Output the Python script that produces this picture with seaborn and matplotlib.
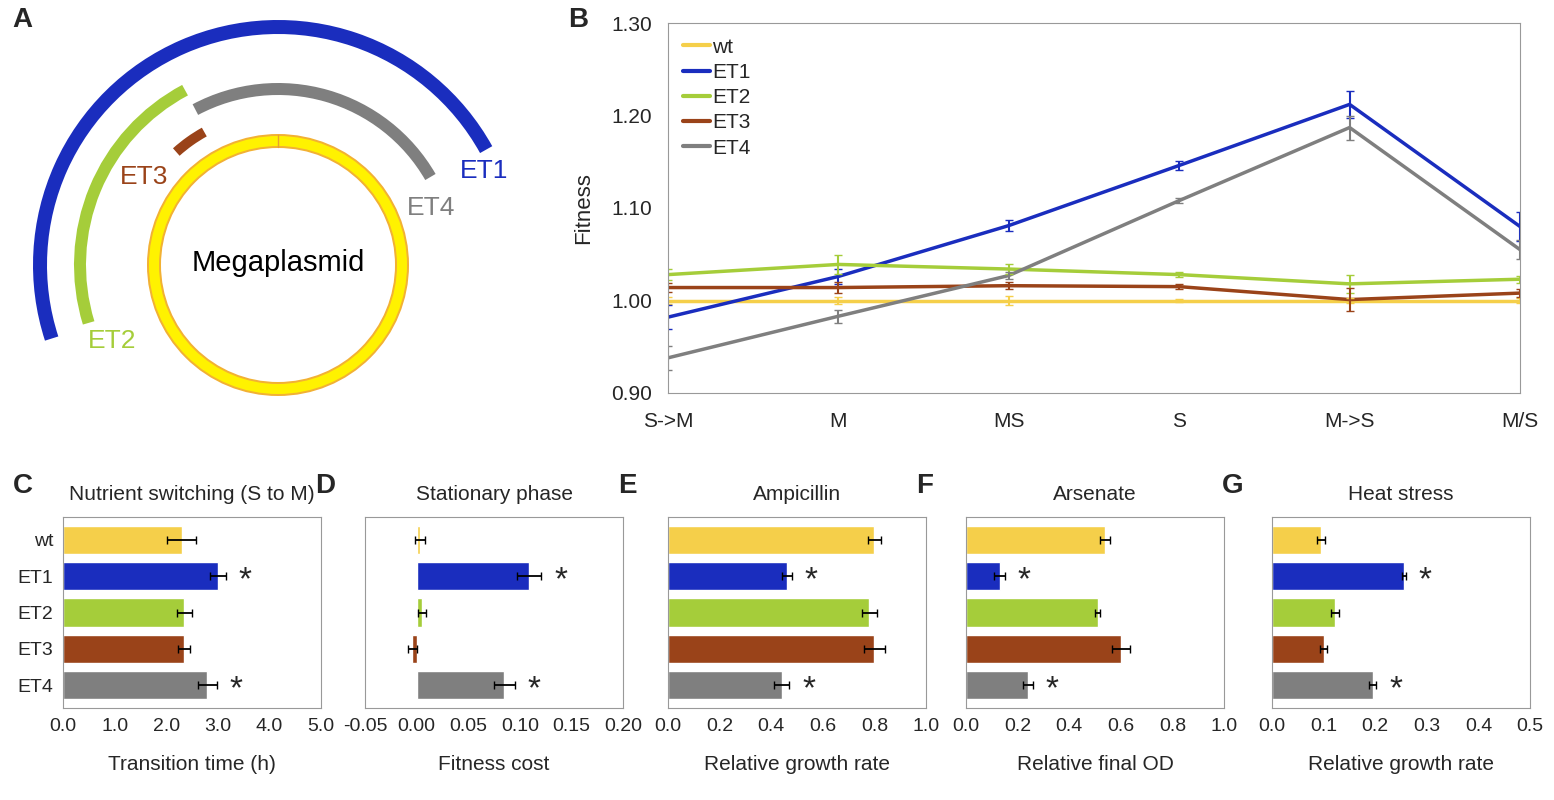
import numpy as np
import pandas as pd
import matplotlib
matplotlib.use("Agg")
import matplotlib.pyplot as plt
from matplotlib.patches import Arc, Circle
import seaborn as sns

sns.set_style("white")
plt.rcParams['font.family'] = ['Liberation Sans', 'DejaVu Sans']

strains = ["wt", "ET1", "ET2", "ET3", "ET4"]
colors = ["#F5CF4A", "#1A2DBE", "#A5CD3A", "#9A4319", "#7F7F7F"]

# panel B
conditions = ["S->M", "M", "MS", "S", "M->S", "M/S"]
fit_wt = [1.000, 1.000, 1.000, 1.000, 1.000, 1.000]
fit_et1 = [0.982, 1.026, 1.081, 1.146, 1.212, 1.080]
fit_et2 = [1.028, 1.039, 1.034, 1.028, 1.018, 1.023]
fit_et3 = [1.014, 1.014, 1.016, 1.015, 1.001, 1.008]
fit_et4 = [0.938, 0.983, 1.027, 1.108, 1.187, 1.055]
err_wt = [0.004, 0.004, 0.005, 0.002, 0.003, 0.003]
err_et1 = [0.013, 0.008, 0.006, 0.005, 0.015, 0.016]
err_et2 = [0.006, 0.010, 0.005, 0.003, 0.010, 0.004]
err_et3 = [0.005, 0.006, 0.004, 0.003, 0.012, 0.004]
err_et4 = [0.013, 0.007, 0.004, 0.003, 0.013, 0.010]

# panels C-G
titles = ["Nutrient switching (S to M)", "Stationary phase", "Ampicillin", "Arsenate", "Heat stress"]
xlabels = ["Transition time (h)", "Fitness cost", "Relative growth rate", "Relative final OD", "Relative growth rate"]
letters = ["C", "D", "E", "F", "G"]
vals = [[2.3, 3.0, 2.35, 2.35, 2.8],
        [0.003, 0.109, 0.005, -0.004, 0.085],
        [0.80, 0.46, 0.78, 0.80, 0.44],
        [0.54, 0.13, 0.51, 0.60, 0.24],
        [0.095, 0.255, 0.122, 0.100, 0.195]]
errs = [[0.28, 0.15, 0.15, 0.12, 0.18],
        [0.005, 0.012, 0.004, 0.004, 0.010],
        [0.025, 0.02, 0.03, 0.04, 0.03],
        [0.02, 0.02, 0.01, 0.035, 0.02],
        [0.007, 0.004, 0.007, 0.007, 0.007]]
xlims = [(0, 5), (-0.05, 0.2), (0, 1), (0, 1), (0, 0.5)]
xticks = [np.arange(0, 5.01, 1.0), np.arange(-0.05, 0.201, 0.05), np.arange(0, 1.01, 0.2),
          np.arange(0, 1.01, 0.2), np.arange(0, 0.501, 0.1)]
tickfmt = ["{:.1f}", "{:.2f}", "{:.1f}", "{:.1f}", "{:.1f}"]
star_rows = [1, 4]

# panel A arcs: radius, start deg, end deg, width px, colour
arc_radius = [238, 198, 176, 152]
arc_start = [29, 118, 30, 119]
arc_end = [198, 197, 118, 132]
arc_width = [14, 12, 12, 10]
arc_colors = [colors[1], colors[2], colors[4], colors[3]]

W, H = 1554, 800
fig = plt.figure(figsize=(W / 100, H / 100), dpi=100)

def add_ax(x0, y0, x1, y1):
    return fig.add_axes([x0 / W, 1 - y1 / H, (x1 - x0) / W, (y1 - y0) / H])

# ---- A ----
axA = add_ax(0, 0, 560, 420)
axA.set_xlim(0, 560)
axA.set_ylim(0, 420)
axA.set_aspect("equal")
axA.axis("off")
cx, cy = 278, 155
px = 0.72
for r, a0, a1, w, c in zip(arc_radius, arc_start, arc_end, arc_width, arc_colors):
    axA.add_patch(Arc((cx, cy), 2 * r, 2 * r, theta1=a0, theta2=a1, color=c, lw=w * px))
axA.add_patch(Circle((cx, cy), 124, fill=False, ec="#F2B134", lw=14 * px))
axA.add_patch(Circle((cx, cy), 124, fill=False, ec="#FFF200", lw=10 * px))
axA.plot([cx, cx], [cy + 118, cy + 130], color="#E8A030", lw=1)
axA.text(cx, cy + 2, "Megaplasmid", ha="center", va="center", fontsize=21, color="black")
axA.text(460, 242, "ET1", color=colors[1], fontsize=19)
axA.text(88, 72, "ET2", color=colors[2], fontsize=19)
axA.text(120, 236, "ET3", color=colors[3], fontsize=19)
axA.text(407, 205, "ET4", color=colors[4], fontsize=19)
fig.text(12 / W, 1 - 20 / H, "A", fontsize=20, fontweight="bold", va="center")

# ---- B ----
axB = add_ax(668, 23, 1520, 393)
rows = []
for s, v, e in zip(strains, [fit_wt, fit_et1, fit_et2, fit_et3, fit_et4],
                   [err_wt, err_et1, err_et2, err_et3, err_et4]):
    for i, (vv, ee) in enumerate(zip(v, e)):
        rows.append({"strain": s, "x": i, "fitness": vv, "err": ee})
dfB = pd.DataFrame(rows)
sns.lineplot(data=dfB, x="x", y="fitness", hue="strain", palette=colors, lw=2.5, ax=axB)
for s, c in zip(strains, colors):
    d = dfB[dfB.strain == s]
    axB.errorbar(d.x, d.fitness, yerr=d.err, fmt="none", ecolor=c, elinewidth=1.5, capsize=3)
axB.set_xlim(0, 5)
axB.set_ylim(0.9, 1.3)
axB.set_xticks(range(6))
axB.set_xticklabels(conditions, fontsize=15)
axB.set_yticks(np.arange(0.9, 1.31, 0.1))
axB.set_yticklabels(["{:.2f}".format(t) for t in np.arange(0.9, 1.31, 0.1)], fontsize=15)
axB.set_xlabel("")
axB.set_ylabel("Fitness", fontsize=16, labelpad=12)
axB.tick_params(axis="x", pad=10)
axB.tick_params(axis="y", pad=8)
for sp in axB.spines.values():
    sp.set_color("#999999")
leg = axB.legend(frameon=False, fontsize=15, loc="upper left", handlelength=1.3,
                 handletextpad=0.1, labelspacing=0.3, borderaxespad=0.3)
for line in leg.get_lines():
    line.set_linewidth(3)
fig.text(568 / W, 1 - 20 / H, "B", fontsize=20, fontweight="bold", va="center")

# ---- C-G ----
lefts = [63, 365, 668, 966, 1272]
for k in range(5):
    ax = add_ax(lefts[k], 517, lefts[k] + 258, 708)
    d = pd.DataFrame({"strain": strains, "val": vals[k]})
    sns.barplot(data=d, y="strain", x="val", hue="strain", palette=colors, orient="h",
                width=0.78, saturation=1, legend=False, ax=ax)
    ax.errorbar(vals[k], range(5), xerr=errs[k], fmt="none", ecolor="black",
                elinewidth=1.3, capsize=3)
    lo, hi = xlims[k]
    for r in star_rows:
        ax.text(vals[k][r] + errs[k][r] + (hi - lo) * 0.05, r + 0.12, "*",
                fontsize=24, ha="left", va="center")
    ax.set_xlim(lo, hi)
    ax.set_xticks(xticks[k])
    ax.set_xticklabels([tickfmt[k].format(t) for t in xticks[k]], fontsize=14)
    ax.set_xlabel(xlabels[k], fontsize=15, labelpad=14)
    ax.set_ylabel("")
    if k == 0:
        ax.set_yticks(range(5))
        ax.set_yticklabels(strains, fontsize=14)
    else:
        ax.set_yticks([])
    ax.tick_params(axis="x", length=4, color="#999999")
    for sp in ax.spines.values():
        sp.set_color("#999999")
    ax.set_title(titles[k], fontsize=15, pad=12)
    fig.text((lefts[k] - 50) / W, 1 - 486 / H, letters[k], fontsize=20,
             fontweight="bold", va="center")

fig.savefig("out.png", dpi=100)
